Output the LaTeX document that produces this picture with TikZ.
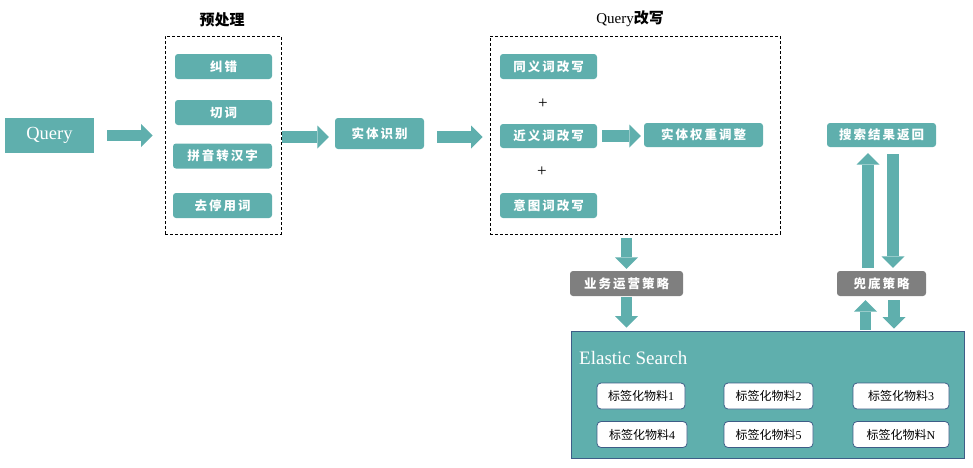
\documentclass[tikz,border=0pt]{standalone}
\usepackage{fontspec}
\setmainfont{Liberation Serif}
\newfontfamily\cjk{Noto Sans CJK SC}
\newfontfamily\cjkw[LetterSpace=16]{Noto Sans CJK SC}
\usetikzlibrary{arrows.meta}
\definecolor{esteal}{HTML}{5FAFAD}
\definecolor{esgray}{HTML}{7F7F7F}
\definecolor{esblue}{HTML}{3E5D87}

\begin{document}
\begin{tikzpicture}[x=1pt, y=-1pt,
    tbox/.style={fill=esteal, rounded corners=3pt, minimum width=#1, minimum height=25pt,
        inner sep=0pt, text=white, font=\cjkw\bfseries\fontsize{12.5}{14}\selectfont},
    gbox/.style={tbox=#1, fill=esgray},
    frame/.style={draw, dash pattern=on 3pt off 2pt, line width=0.8pt, inner sep=0pt},
    title/.style={inner sep=0pt, font=\fontsize{15}{17}\selectfont},
    mbox/.style={fill=white, draw=esblue, line width=0.8pt, rounded corners=4pt,
        minimum height=26pt, inner sep=0pt, font=\fontsize{12}{14}\selectfont},
    barrow/.style={draw=esteal, line width=11.5pt,
        -{Triangle[width=23pt, length=11.5pt, line width=0pt]}}]
    \useasboundingbox (0,0) rectangle (973,467);
    % query and preprocessing
    \node[fill=esteal, minimum width=89pt, minimum height=35pt, inner sep=0pt, text=white,
        font=\fontsize{18.5}{20}\selectfont] (query) at (49.5,135.5) {Query};
    \node[frame, minimum width=116pt, minimum height=198pt] (pre) at (223,135) {};
    \node[title] (pret) at (222,20) {\cjk\bfseries 预处理};
    \node[tbox=97pt] (jc) at (223.5,66.5) {纠错};
    \node[tbox=97pt] (qc) at (223.5,112.5) {切词};
    \node[tbox=99pt] (py) at (222.5,156) {拼音转汉字};
    \node[tbox=99pt] (tyc) at (222.5,205.5) {去停用词};
    \node[tbox=89pt, minimum height=31pt] (st) at (379.5,133.5) {实体识别};
    % rewriting
    \node[frame, minimum width=290pt, minimum height=198pt] (rw) at (635,135) {};
    \node[title] (rwt) at (630,19) {Query{\cjk\bfseries 改写}};
    \node[tbox=97pt] (ty) at (548.5,66.5) {同义词改写};
    \node[inner sep=0pt, font=\fontsize{17}{18}\selectfont] (plus1) at (543,104) {+};
    \node[tbox=97pt, minimum height=24pt] (jy) at (548.5,136) {近义词改写};
    \node[tbox=119pt, minimum height=24pt] (qz) at (703.5,135) {实体权重调整};
    \node[inner sep=0pt, font=\fontsize{17}{18}\selectfont] (plus2) at (542,172) {+};
    \node[tbox=97pt] (yt) at (548.5,205.5) {意图词改写};
    % strategies and results
    \node[tbox=109pt, minimum height=24pt] (ret) at (881.5,135) {搜索结果返回};
    \node[gbox=113pt] (yy) at (626.5,283.5) {业务运营策略};
    \node[gbox=89pt] (dd) at (881.5,283.5) {兜底策略};
    % elastic search
    \node[draw=esblue, fill=esteal, line width=0.8pt, minimum width=393pt, minimum height=127pt,
        inner sep=0pt] (es) at (767.5,394.5) {};
    \node[anchor=west, inner sep=0pt, text=white, font=\fontsize{19}{22}\selectfont]
        (est) at (579,358) {Elastic Search};
    \foreach \n/\x/\y/\w/\t in {1/641/396/88/1, 2/768.5/396/89/2, 3/901/396/96/3,
        4/642/434.5/90/4, 5/768.5/434.5/89/5, 6/901/434.5/96/N}
        \node[mbox, minimum width=\w pt] (m\n) at (\x,\y) {{\cjk 标签化物料}\t};
    % arrows
    \coordinate (a2) at ([yshift=-2pt]pre.east);
    \coordinate (a3) at ([yshift=-2pt]rw.west);
    \coordinate (u1) at ([xshift=-13.5pt]dd.north);
    \coordinate (d1) at ([xshift=11.5pt]ret.south);
    \coordinate (u2) at ([xshift=-16pt]dd.south);
    \coordinate (d2) at ([xshift=12.5pt]dd.south);
    \draw[barrow, shorten <=13pt, shorten >=12pt] (query.east) -- (query.east -| pre.west);
    \draw[barrow, shorten <=1pt, shorten >=6pt] (a2) -- (a2 -| st.west);
    \draw[barrow, shorten <=13pt, shorten >=7pt] (a3 -| st.east) -- (a3);
    \draw[barrow, shorten <=5pt, shorten >=3pt] (jy.east) -- (jy.east -| qz.west);
    \draw[barrow, shorten <=4pt, shorten >=2pt] (yy.north |- rw.south) -- (yy.north);
    \draw[barrow, shorten <=1pt, shorten >=3pt] (yy.south) -- (yy.south |- es.north);
    \draw[barrow, shorten <=3pt, shorten >=6pt] (u1) -- (u1 |- ret.south);
    \draw[barrow, shorten <=7pt, shorten >=3pt] (d1) -- (d1 |- dd.north);
    \draw[barrow, shorten <=1pt, shorten >=4pt] (u2 |- es.north) -- (u2);
    \draw[barrow, shorten <=4pt, shorten >=2pt] (d2) -- (d2 |- es.north);
\end{tikzpicture}
\end{document}
